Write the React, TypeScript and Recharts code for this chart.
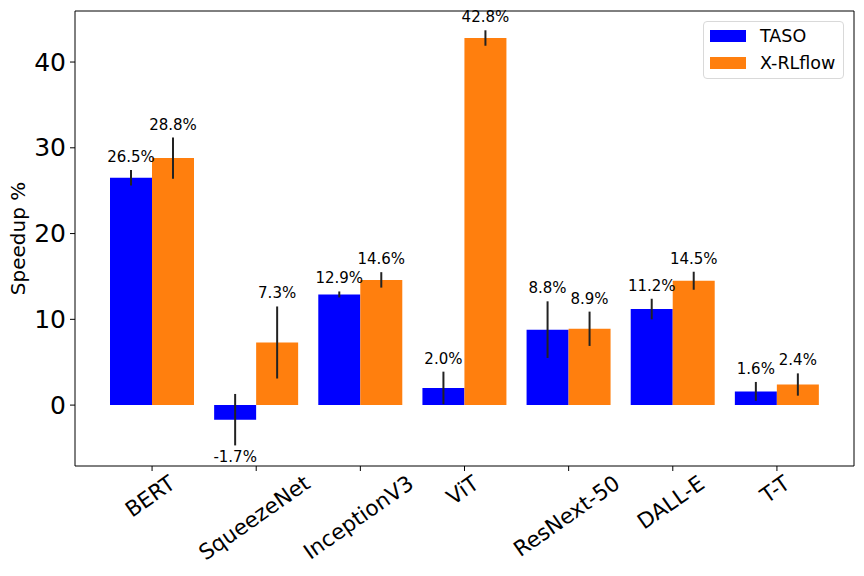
import * as React from "react";
import {
  BarChart,
  Bar,
  XAxis,
  YAxis,
  ErrorBar,
  LabelList,
  Legend
} from "recharts";

const FONT = '"DejaVu Sans", sans-serif';

const models = ["BERT", "SqueezeNet", "InceptionV3", "ViT", "ResNext-50", "DALL-E", "T-T"];
const taso = [26.5, -1.7, 12.9, 2.0, 8.8, 11.2, 1.6];
const tasoErr = [0.9, 3.0, 0.35, 1.9, 3.3, 1.2, 1.1];
const xrl = [28.8, 7.3, 14.6, 42.8, 8.9, 14.5, 2.4];
const xrlErr = [2.4, 4.2, 0.9, 0.9, 2.0, 1.05, 1.3];
const yTicks = [0, 10, 20, 30, 40];

const rows = models.map((name, i) => ({
  name,
  taso: taso[i],
  tasoErr: tasoErr[i],
  xrl: xrl[i],
  xrlErr: xrlErr[i]
}));

const ctx = document.createElement("canvas").getContext("2d");
function textWidth(t: string, size: number) {
  if (!ctx) return t.length * size * 0.6;
  ctx.font = `${size}px "DejaVu Sans"`;
  return ctx.measureText(t).width;
}

// rotated tick labels, top of the rotated box hangs just under the tick
const ANGLE = 35;
function XTick(props: any) {
  const { x, y, payload } = props;
  const size = 21.5;
  const w = textWidth(payload.value, size);
  const rad = (ANGLE * Math.PI) / 180;
  const cx = x - 2;
  const cy = y + (w / 2) * Math.sin(rad) + 9.5;
  return (
    <text
      x={cx}
      y={cy}
      textAnchor="middle"
      dominantBaseline="central"
      fontSize={size}
      fontFamily={FONT}
      fill="#000"
      transform={`rotate(-${ANGLE}, ${cx}, ${cy})`}
    >
      {payload.value}
    </text>
  );
}

function YTick(props: any) {
  const { x, y, payload } = props;
  return (
    <text
      x={x}
      y={y}
      textAnchor="end"
      dominantBaseline="central"
      fontSize={25}
      fontFamily={FONT}
      fill="#000"
    >
      {payload.value}
    </text>
  );
}

function makeLabel(errs: number[]) {
  return (props: any) => {
    const { x, y, width, height, value, index } = props;
    const top = Math.min(y, y + height);
    const bottom = Math.max(y, y + height);
    const ppu = (bottom - top) / Math.abs(value);
    const cx = x + width / 2;
    const text = `${value.toFixed(1)}%`;
    const ty =
      value >= 0
        ? top - errs[index] * ppu - 8
        : bottom + errs[index] * ppu + 17;
    return (
      <text x={cx} y={ty} textAnchor="middle" fontSize={15} fontFamily={FONT} fill="#000">
        {text}
      </text>
    );
  };
}

const series = [
  { key: "taso", name: "TASO", color: "#0000ff" },
  { key: "xrl", name: "X-RLflow", color: "#ff7f0e" }
];

function LegendBox() {
  return (
    <div
      style={{
        width: 141,
        height: 58,
        boxSizing: "border-box",
        border: "1px solid #d9d9d9",
        borderRadius: 4,
        background: "#fff",
        position: "relative",
        fontFamily: FONT,
        fontSize: 17.5
      }}
    >
      {series.map((s, i) => (
        <div
          key={s.key}
          style={{ position: "absolute", left: 6, top: 14 + i * 27 - 11, height: 22, display: "flex", alignItems: "center" }}
        >
          <span style={{ display: "inline-block", width: 36, height: 12, background: s.color }} />
          <span style={{ marginLeft: 14, color: "#000", lineHeight: "22px" }}>{s.name}</span>
        </div>
      ))}
    </div>
  );
}

export default function App() {
  return (
    <div style={{ position: "absolute", left: 0, top: 0, width: 864, height: 576, background: "#fff" }}>
      <BarChart
        width={864}
        height={576}
        data={rows}
        margin={{ top: 10, right: 9, left: 0, bottom: 0 }}
        barGap={0}
        barSize={42}
      >
        <XAxis
          dataKey="name"
          height={110}
          padding={{ left: 25, right: 25 }}
          interval={0}
          tickSize={5}
          tickMargin={0}
          tick={<XTick />}
          axisLine={{ stroke: "#000" }}
          tickLine={{ stroke: "#000" }}
        />
        <XAxis
          xAxisId="top"
          dataKey="name"
          orientation="top"
          height={1}
          tick={false}
          tickLine={false}
          axisLine={{ stroke: "#000" }}
        />
        <YAxis
          width={75}
          domain={[-7.1, 45.95]}
          ticks={yTicks}
          allowDataOverflow
          tickSize={5}
          tickMargin={4}
          tick={<YTick />}
          axisLine={{ stroke: "#000" }}
          tickLine={{ stroke: "#000" }}
          label={{
            content: ({ viewBox }: any) => (
              <text
                x={viewBox.x + 18}
                y={viewBox.y + viewBox.height / 2}
                textAnchor="middle"
                dominantBaseline="central"
                fontSize={20}
                fontFamily={FONT}
                fill="#000"
                transform={`rotate(-90, ${viewBox.x + 18}, ${viewBox.y + viewBox.height / 2})`}
              >
                Speedup %
              </text>
            )
          }}
        />
        <YAxis
          yAxisId="right"
          orientation="right"
          width={1}
          domain={[-7.1, 45.95]}
          tick={false}
          tickLine={false}
          axisLine={{ stroke: "#000" }}
        />
        <Legend
          layout="horizontal"
          verticalAlign="middle"
          align="center"
          content={<LegendBox />}
          wrapperStyle={{ position: "absolute", left: 703, top: 21, width: 141, height: 58 }}
        />
        <Bar dataKey="taso" name="TASO" fill="#0000ff" isAnimationActive={false}>
          <ErrorBar dataKey="tasoErr" width={0} stroke="#222" strokeWidth={2} direction="y" />
          <LabelList dataKey="taso" content={makeLabel(tasoErr)} />
        </Bar>
        <Bar dataKey="xrl" name="X-RLflow" fill="#ff7f0e" isAnimationActive={false}>
          <ErrorBar dataKey="xrlErr" width={0} stroke="#222" strokeWidth={2} direction="y" />
          <LabelList dataKey="xrl" content={makeLabel(xrlErr)} />
        </Bar>
      </BarChart>
    </div>
  );
}
